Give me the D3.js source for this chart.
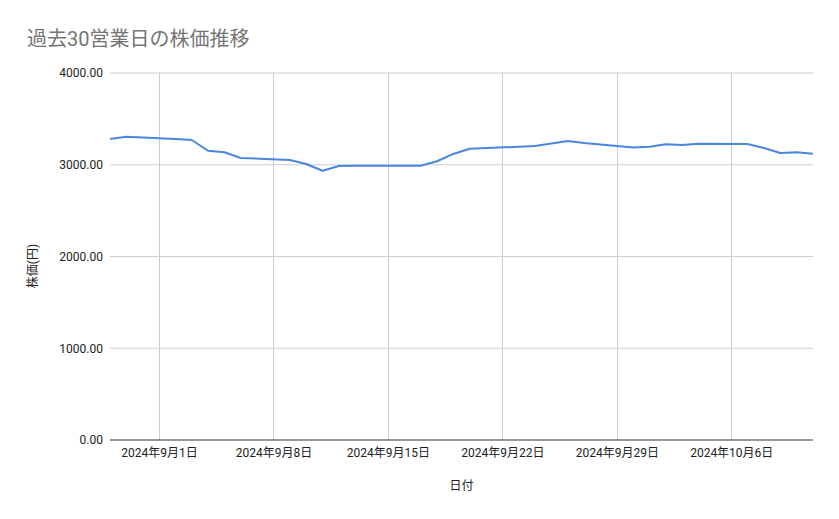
<!DOCTYPE html>
<html>
<head>
<meta charset="utf-8">
<script src="https://cdn.jsdelivr.net/npm/d3@7"></script>
<style>
  body { margin: 0; background: #fff; }
  svg text { font-family: Roboto, "Noto Sans CJK JP", sans-serif; }
</style>
</head>
<body>
<div id="chart"></div>
<script>
// 過去30営業日 (holidays 9/16, 9/23 skipped)
var dates = ["2024-08-29", "2024-08-30",
  "2024-09-02", "2024-09-03", "2024-09-04", "2024-09-05", "2024-09-06",
  "2024-09-09", "2024-09-10", "2024-09-11", "2024-09-12", "2024-09-13",
  "2024-09-17", "2024-09-18", "2024-09-19", "2024-09-20",
  "2024-09-24", "2024-09-25", "2024-09-26", "2024-09-27",
  "2024-09-30", "2024-10-01", "2024-10-02", "2024-10-03", "2024-10-04",
  "2024-10-07", "2024-10-08", "2024-10-09", "2024-10-10", "2024-10-11"]
var prices = [3280, 3305,
  3280, 3270, 3153, 3136, 3074,
  3052, 3008, 2935, 2986, 2990,
  2990, 3038, 3118, 3175,
  3204, 3232, 3259, 3237,
  3188, 3197, 3223, 3215, 3229,
  3226, 3183, 3128, 3136, 3120]
var yTicks = [0, 1000, 2000, 3000, 4000]

var parse = d3.timeParse("%Y-%m-%d")
var data = dates.map(function (d, i) { return { date: parse(d), price: prices[i] } })

var W = 839, H = 519
var margin = { top: 73, right: 26, bottom: 79, left: 110 }

var svg = d3.select("#chart").append("svg")
    .attr("width", W)
    .attr("height", H)

var x = d3.scaleTime()
    .domain(d3.extent(data, function (d) { return d.date }))
    .range([margin.left, W - margin.right])

var y = d3.scaleLinear()
    .domain([0, 4000])
    .range([H - margin.bottom, margin.top])

var weekTicks = x.ticks(d3.timeWeek.every(1))

// gridlines
svg.append("g")
    .selectAll("line")
    .data(yTicks.slice(1))
    .enter().append("line")
    .attr("x1", margin.left).attr("x2", W - margin.right)
    .attr("y1", function (d) { return y(d) }).attr("y2", function (d) { return y(d) })
    .attr("stroke", "#cccccc").attr("stroke-width", 1)

svg.append("g")
    .selectAll("line")
    .data(weekTicks)
    .enter().append("line")
    .attr("x1", function (d) { return Math.round(x(d)) + 0.5 }).attr("x2", function (d) { return Math.round(x(d)) + 0.5 })
    .attr("y1", margin.top).attr("y2", H - margin.bottom)
    .attr("stroke", "#cccccc").attr("stroke-width", 1)

// y axis labels
var yAxis = svg.append("g")
    .attr("transform", "translate(" + margin.left + ",0)")
    .call(d3.axisLeft(y).tickValues(yTicks).tickFormat(d3.format(".2f")).tickSize(0).tickPadding(7))
yAxis.select(".domain").remove()
yAxis.selectAll("text").attr("font-size", 12).attr("fill", "#222")
    .style("font-family", "Roboto, 'Noto Sans CJK JP', sans-serif")

// x axis
var fmt = function (d) { return d.getFullYear() + "年" + (d.getMonth() + 1) + "月" + d.getDate() + "日" }
var xAxis = svg.append("g")
    .attr("transform", "translate(0," + (H - margin.bottom) + ")")
    .call(d3.axisBottom(x).tickValues(weekTicks).tickFormat(fmt).tickSize(0).tickPadding(8))
xAxis.select(".domain").remove()
xAxis.selectAll("text").attr("font-size", 12).attr("fill", "#222")
    .style("font-family", "Roboto, 'Noto Sans CJK JP', sans-serif")

// baseline
svg.append("line")
    .attr("x1", margin.left).attr("x2", W - margin.right)
    .attr("y1", y(0)).attr("y2", y(0))
    .attr("stroke", "#333333").attr("stroke-width", 1.2)

// line
var line = d3.line()
    .x(function (d) { return x(d.date) })
    .y(function (d) { return y(d.price) })

svg.append("path")
    .datum(data)
    .attr("fill", "none")
    .attr("stroke", "#4a86e0")
    .attr("stroke-width", 2)
    .attr("stroke-linejoin", "round")
    .attr("d", line)

// titles
svg.append("text")
    .attr("x", 27).attr("y", 46)
    .attr("font-size", 20)
    .attr("fill", "#757575")
    .text("過去30営業日の株価推移")

svg.append("text")
    .attr("x", (margin.left + W - margin.right) / 2).attr("y", 490)
    .attr("text-anchor", "middle")
    .attr("font-size", 12)
    .attr("fill", "#222")
    .text("日付")

svg.append("text")
    .attr("transform", "translate(37,266) rotate(-90)")
    .attr("text-anchor", "middle")
    .attr("font-size", 12)
    .attr("fill", "#222")
    .text("株価(円)")
</script>
</body>
</html>
